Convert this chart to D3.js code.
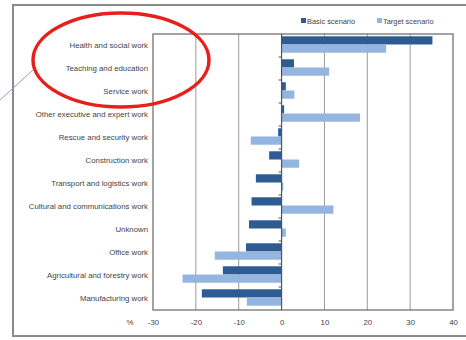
<!DOCTYPE html>
<html lang="en">
<head>
    <meta charset="UTF-8">
    <title>Occupational change scenarios</title>
    <script src="https://d3js.org/d3.v7.min.js"></script>
    <style>
        body {
            margin: 0;
            padding: 0;
            background-color: #fff;
            font-family: "Liberation Sans", Arial, sans-serif;
        }
        svg text {
            fill: #444;
        }
    </style>
</head>
<body>
    <svg id="chart" width="466" height="340"></svg>

    <script>
        const categories = [
            "Health and social work",
            "Teaching and education",
            "Service work",
            "Other executive and expert work",
            "Rescue and security work",
            "Construction work",
            "Transport and logistics work",
            "Cultural and communications work",
            "Unknown",
            "Office work",
            "Agricultural and forestry work",
            "Manufacturing work"
        ];
        const basicScenario = [35.2, 2.9, 1.0, 0.6, -0.8, -2.9, -6.0, -7.0, -7.6, -8.3, -13.7, -18.6];
        const targetScenario = [24.4, 11.1, 3.0, 18.3, -7.2, 4.1, 0.4, 12.1, 1.0, -15.6, -23.1, -8.1];
        const xTicks = [-30, -20, -10, 0, 10, 20, 30, 40];
        const seriesNames = ["Basic scenario", "Target scenario"];
        const colors = ["#2f5b93", "#93b5df"];

        const svg = d3.select("#chart");

        // outer frame
        svg.append("rect")
            .attr("x", 13).attr("y", 5)
            .attr("width", 470).attr("height", 331)
            .attr("fill", "none")
            .attr("stroke", "#8a8a8a")
            .attr("stroke-width", 2);

        const plot = { left: 153, right: 453, top: 34, bottom: 310 };

        const x = d3.scaleLinear().domain([-30, 40]).range([plot.left, plot.right]);
        const y = d3.scaleBand().domain(categories).range([plot.top, plot.bottom]);
        const sub = d3.scaleBand().domain(seriesNames)
            .range([0, y.bandwidth()]).paddingOuter(0.4);

        // gridlines
        svg.append("g")
            .selectAll("line")
            .data(xTicks.filter(d => d !== 0 && d !== -30 && d !== 40))
            .enter()
            .append("line")
            .attr("x1", d => x(d)).attr("x2", d => x(d))
            .attr("y1", plot.top).attr("y2", plot.bottom)
            .attr("stroke", "#9a9a9a")
            .attr("stroke-width", 1);

        // plot border
        svg.append("rect")
            .attr("x", plot.left).attr("y", plot.top)
            .attr("width", plot.right - plot.left)
            .attr("height", plot.bottom - plot.top)
            .attr("fill", "none")
            .attr("stroke", "#666")
            .attr("stroke-width", 1.2);

        // bars
        const series = [basicScenario, targetScenario];
        series.forEach((values, s) => {
            svg.append("g")
                .selectAll("rect")
                .data(values)
                .enter()
                .append("rect")
                .attr("x", d => x(Math.min(0, d)))
                .attr("y", (d, i) => y(categories[i]) + sub(seriesNames[s]) - 1)
                .attr("width", d => Math.abs(x(d) - x(0)))
                .attr("height", sub.bandwidth())
                .attr("fill", colors[s]);
        });

        // zero axis with small ticks
        svg.append("line")
            .attr("x1", x(0)).attr("x2", x(0))
            .attr("y1", plot.top).attr("y2", plot.bottom)
            .attr("stroke", "#555")
            .attr("stroke-width", 1.2);
        svg.append("g")
            .selectAll("line")
            .data(categories.slice(1))
            .enter()
            .append("line")
            .attr("x1", x(0) - 3).attr("x2", x(0))
            .attr("y1", d => y(d)).attr("y2", d => y(d))
            .attr("stroke", "#555");

        // category labels
        svg.append("g")
            .selectAll("text")
            .data(categories)
            .enter()
            .append("text")
            .attr("x", 148)
            .attr("y", d => y(d) + y.bandwidth() / 2)
            .attr("dy", "0.35em")
            .attr("text-anchor", "end")
            .attr("font-size", "7.8px")
            .text(d => d);

        // x tick labels
        const xAxis = d3.axisBottom(x).tickValues(xTicks)
            .tickFormat(d => String(d)).tickSize(0).tickPadding(9);
        const gx = svg.append("g")
            .attr("transform", `translate(0,${plot.bottom})`)
            .call(xAxis);
        gx.select(".domain").remove();
        gx.selectAll("text")
            .attr("font-size", "7.8px")
            .attr("font-family", "Liberation Sans, Arial, sans-serif")
            .attr("fill", "#444");

        svg.append("text")
            .attr("x", 130).attr("y", 325)
            .attr("text-anchor", "middle")
            .attr("font-size", "7.8px")
            .text("%");

        // legend
        const legendX = [301, 377];
        seriesNames.forEach((name, i) => {
            svg.append("rect")
                .attr("x", legendX[i]).attr("y", 18)
                .attr("width", 5).attr("height", 5)
                .attr("fill", colors[i]);
            svg.append("text")
                .attr("x", legendX[i] + 6).attr("y", 21)
                .attr("dy", "0.35em")
                .attr("font-size", "7.4px")
                .text(name);
        });

        // annotation: pointer line and red ellipse
        svg.append("line")
            .attr("x1", 0).attr("y1", 100)
            .attr("x2", 33).attr("y2", 70)
            .attr("stroke", "#7fa3d6")
            .attr("stroke-width", 1);
        svg.append("ellipse")
            .attr("cx", 121).attr("cy", 60)
            .attr("rx", 88).attr("ry", 47)
            .attr("fill", "none")
            .attr("stroke", "#e8201c")
            .attr("stroke-width", 3.5);
    </script>
</body>
</html>
